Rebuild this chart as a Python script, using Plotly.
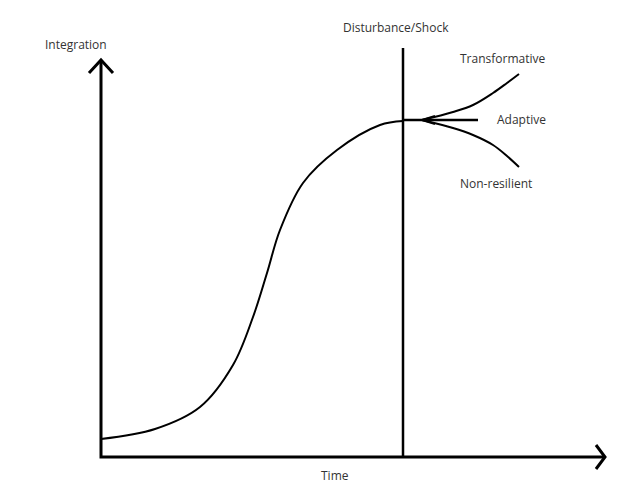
import plotly.graph_objects as go

# S-curve of integration over time (units: px from the axes origin)
time = [0, 54, 99, 132, 152, 166, 179, 202, 236, 279, 302]
integration = [18, 28, 50, 92, 140, 184, 227, 274, 307, 332, 336]

# post-shock pathways
branch_time = [321, 352, 372, 392, 406, 418]
transformative = [337, 345, 352, 364, 374, 383]
adaptive = [337, 337, 337, 337, 337, 337]
adaptive_time = [321, 377]
non_resilient = [337, 329, 322, 312, 301, 290]

shock_time = 302
axis_len_x = 504
axis_len_y = 397

labels = ["Transformative", "Adaptive", "Non-resilient"]

fig = go.Figure()
line = dict(color="black", width=2)

fig.add_trace(go.Scatter(x=time, y=integration, mode="lines", line_shape="spline",
                         line=dict(color="black", width=2, smoothing=1)))
fig.add_trace(go.Scatter(x=branch_time, y=transformative, mode="lines", line_shape="spline", line=line))
fig.add_trace(go.Scatter(x=branch_time, y=non_resilient, mode="lines", line_shape="spline", line=line))
fig.add_trace(go.Scatter(x=[shock_time, adaptive_time[1]], y=adaptive[:2], mode="lines", line=dict(color="black", width=2.5)))
# little arrowhead where paths split
fig.add_trace(go.Scatter(x=[334, 321, 334], y=[341, 337, 333], mode="lines", line=line))

axis = dict(color="black", width=3)
fig.add_trace(go.Scatter(x=[0, 0, axis_len_x], y=[axis_len_y, 0, 0], mode="lines", line=axis))
fig.add_trace(go.Scatter(x=[-12, 0, 12], y=[axis_len_y - 13, axis_len_y, axis_len_y - 13], mode="lines", line=axis))
fig.add_trace(go.Scatter(x=[axis_len_x - 9, axis_len_x, axis_len_x - 9], y=[12, 0, -12], mode="lines", line=axis))
fig.add_trace(go.Scatter(x=[shock_time, shock_time], y=[0, 409], mode="lines", line=dict(color="black", width=2.5)))

font = dict(family="Open Sans, sans-serif", size=12, color="#333")
texts = [
    ("Integration", -25, 413),
    ("Disturbance/Shock", 295, 430),
    (labels[0], 401, 399),
    (labels[1], 420, 338),
    (labels[2], 395, 274),
    ("Time", 234, -18),
]
for t, x, y in texts:
    fig.add_annotation(x=x, y=y, text=t, showarrow=False, font=font)

# page body adds ~8px offset, so the ranges are shifted to keep the origin at (101, 457)
fig.update_layout(
    width=632, height=483, template="plotly_white", showlegend=False,
    margin=dict(l=0, r=0, t=0, b=0),
    plot_bgcolor="white", paper_bgcolor="white",
    xaxis=dict(range=[-93, 539], visible=False, showgrid=False),
    yaxis=dict(range=[-34, 449], visible=False, showgrid=False),
)
fig.write_html("out.html")
